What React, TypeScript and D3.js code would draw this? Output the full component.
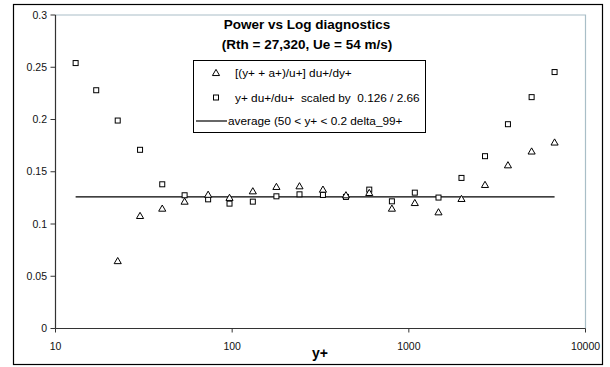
import React from "react";
import * as d3 from "d3";

const yPlusValues = [13, 17, 22.5, 30.1, 40.2, 53.8, 73.1, 96.6, 130.9, 178, 240.5, 326.5, 440.6, 597, 802, 1081, 1472, 1986, 2699, 3639, 4955, 6683];
const squareValues = [0.254, 0.228, 0.199, 0.171, 0.138, 0.1275, 0.1236, 0.1195, 0.1214, 0.1265, 0.1284, 0.1278, 0.1259, 0.1329, 0.1217, 0.130, 0.1253, 0.1441, 0.1649, 0.1955, 0.2214, 0.2454];
const triangleYPlus = yPlusValues.slice(2);
const triangleValues = [0.0645, 0.1077, 0.1147, 0.1214, 0.128, 0.125, 0.1313, 0.1355, 0.1361, 0.1329, 0.1275, 0.1297, 0.1147, 0.1201, 0.1112, 0.124, 0.1374, 0.1562, 0.1694, 0.178];
const averageValue = 0.126;
const yTicks = [0, 0.05, 0.1, 0.15, 0.2, 0.25, 0.3];
const xTicks = [10, 100, 1000, 10000];
const titleLines = ["Power vs Log diagnostics", "(Rth = 27,320, Ue = 54 m/s)"];
const legendLabels = ["[(y+ + a+)/u+] du+/dy+", "y+ du+/du+  scaled by  0.126 / 2.66", "average (50 < y+ < 0.2 delta_99+"];

const FONT = "'Liberation Sans', Arial, sans-serif";

export default function App() {
  const W = 610, H = 367;
  const left = 55.5, right = 585.5, top = 15, bottom = 328.5;
  const x = d3.scaleLog().domain([10, 10000]).range([left, right]);
  const y = d3.scaleLinear().domain([0, 0.3]).range([bottom, top]);
  const tri = d3.symbol().type(d3.symbolTriangle).size(22)();
  const sq = (cx: number, cy: number) => (
    <rect x={cx - 2.5} y={cy - 2.5} width={5} height={5} fill="white" stroke="black" strokeWidth={1} />
  );
  const triM = (cx: number, cy: number) => (
    <path d={tri} transform={`translate(${cx},${cy + 0.5})`} fill="white" stroke="black" strokeWidth={1} />
  );
  const avgLine = d3.line<number>().x((d) => x(d)).y(() => y(averageValue));
  const pre = { whiteSpace: "pre" as const };
  return (
    <svg width={W} height={H} style={{ position: "absolute", left: 0, top: 0 }} fontFamily={FONT}>
      <rect x={0} y={0} width={W} height={H} fill="white" />
      <rect x={13.5} y={4.5} width={589} height={360} fill="none" stroke="black" strokeWidth={1.2} />
      <path d={`M${left},${top}H${right}V${bottom}`} fill="none" stroke="#a9bec7" strokeWidth={1.2} />
      <line x1={left} x2={left} y1={top} y2={bottom} stroke="#333" strokeWidth={1.2} />
      <line x1={left} x2={right} y1={bottom} y2={bottom} stroke="#333" strokeWidth={1.2} />
      {yTicks.map((t) => (
        <g key={t}>
          <line x1={left - 5} x2={left} y1={y(t)} y2={y(t)} stroke="#333" />
          <text x={47} y={y(t) + 3.5} fontSize={10.5} textAnchor="end" fill="#111">{String(t)}</text>
        </g>
      ))}
      {xTicks.map((t) => (
        <g key={t}>
          <line x1={x(t)} x2={x(t)} y1={bottom} y2={bottom + 4} stroke="#333" />
          <text x={x(t)} y={349.5} fontSize={10.5} textAnchor="middle" fill="#111">{String(t)}</text>
        </g>
      ))}
      <text x={320} y={357.5} fontSize={14} fontWeight="bold" textAnchor="middle">y+</text>
      {titleLines.map((l, i) => (
        <text key={i} x={307} y={29 + i * 20} fontSize={13.5} fontWeight="bold" textAnchor="middle">{l}</text>
      ))}
      <path d={avgLine([yPlusValues[0], yPlusValues[yPlusValues.length - 1]]) || ""} stroke="black" strokeWidth={1.2} fill="none" />
      {yPlusValues.map((v, i) => <g key={"s" + i}>{sq(x(v), y(squareValues[i]))}</g>)}
      {triangleYPlus.map((v, i) => <g key={"t" + i}>{triM(x(v), y(triangleValues[i]))}</g>)}
      <rect x={193.5} y={60.5} width={232} height={72} fill="white" stroke="black" strokeWidth={1} />
      {triM(216, 73)}
      <text x={235} y={77} fontSize={11.8} style={pre}>{legendLabels[0]}</text>
      {sq(216, 97.5)}
      <text x={235} y={101.5} fontSize={11.8} style={pre}>{legendLabels[1]}</text>
      <line x1={196} x2={227} y1={121} y2={121} stroke="black" strokeWidth={1.2} />
      <text x={228} y={125} fontSize={11.8} style={pre}>{legendLabels[2]}</text>
    </svg>
  );
}
